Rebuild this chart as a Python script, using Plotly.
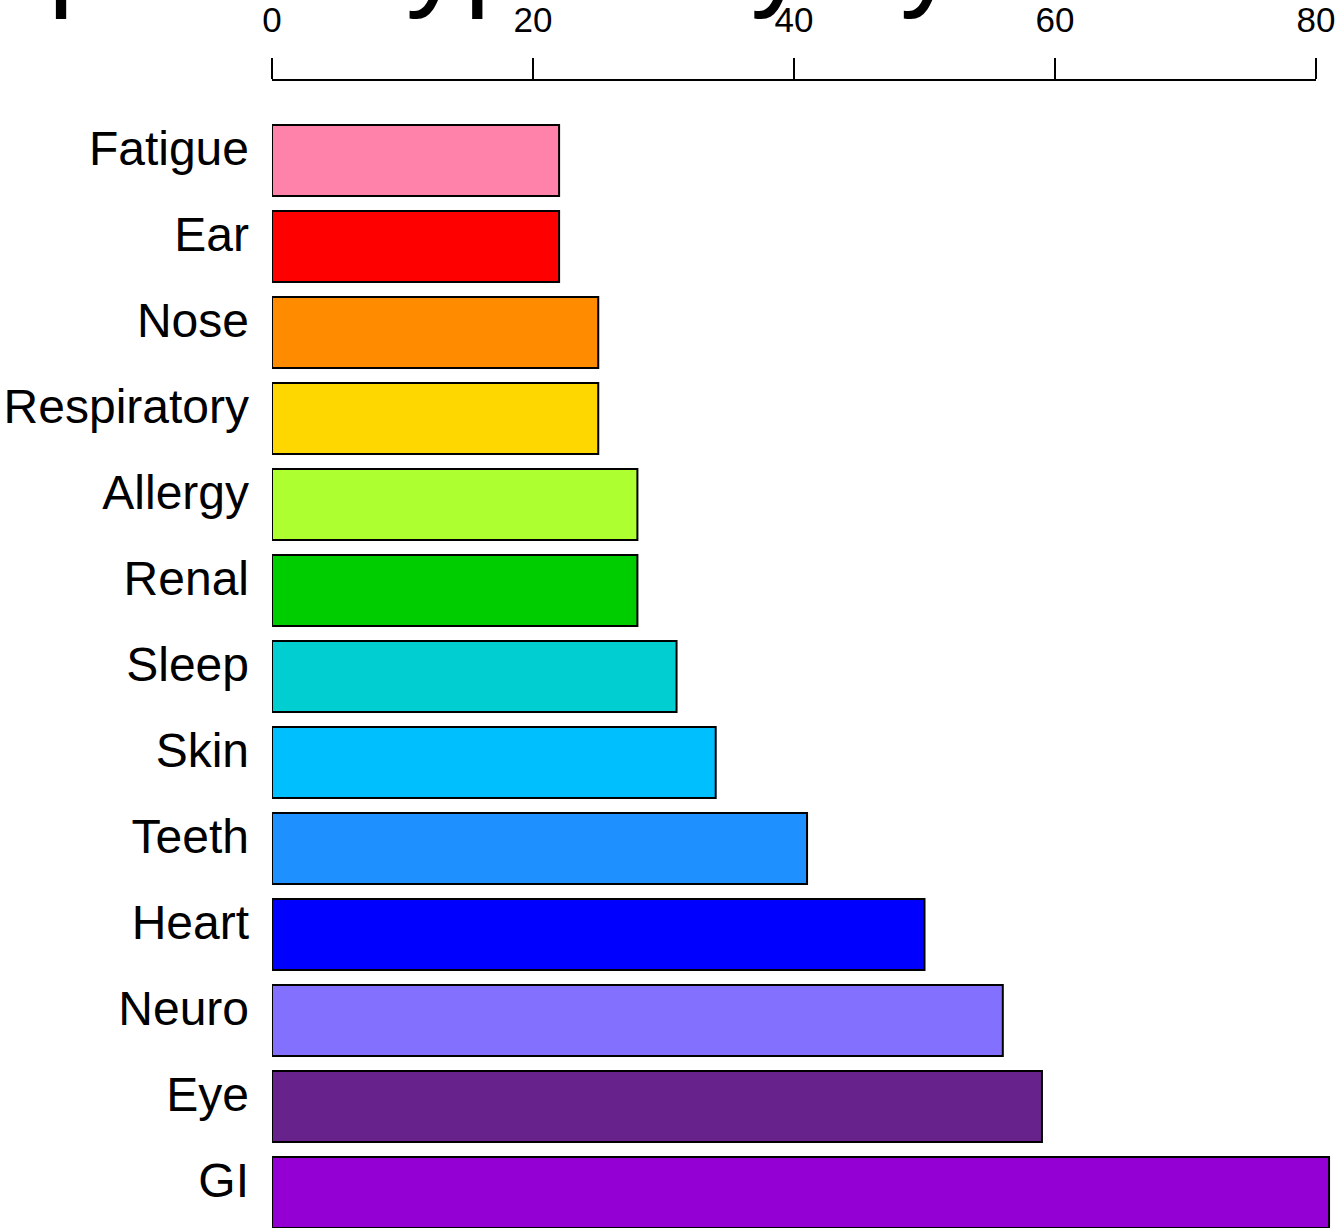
import plotly.graph_objects as go

categories = ["Fatigue", "Ear", "Nose", "Respiratory", "Allergy", "Renal", "Sleep",
              "Skin", "Teeth", "Heart", "Neuro", "Eye", "GI"]
values = [22, 22, 25, 25, 28, 28, 31, 34, 41, 50, 56, 59, 81]
colors = ["#FF82AB", "#FF0000", "#FF8C00", "#FFD700", "#ADFF2F", "#00CD00", "#00CED1",
          "#00BFFF", "#1E90FF", "#0000FF", "#8470FF", "#68228B", "#9400D3"]
tick_vals = [0, 20, 40, 60, 80]
title_text = "phenotypes by system"

W, H = 1341, 1228
L, R, T, B = 272, 5, 80, 0
px_per_unit = 1044 / 80.0
plot_w = W - L - R
x_max = plot_w / px_per_unit

fig = go.Figure(go.Bar(
    x=values, y=categories, orientation="h",
    marker=dict(color=colors, line=dict(color="black", width=2)),
    showlegend=False, hoverinfo="skip",
))

fig.update_layout(
    width=W, height=H,
    margin=dict(l=L, r=R, t=T, b=B, autoexpand=False),
    paper_bgcolor="white", plot_bgcolor="white",
    bargap=0.174,
    font=dict(family="Liberation Sans, Arial, sans-serif", color="black"),
    xaxis=dict(
        side="top", range=[0, x_max], tickvals=tick_vals,
        ticks="outside", ticklen=21, tickwidth=2, tickcolor="black",
        showline=False, showgrid=False, zeroline=False,
        tickfont=dict(size=35, color="black"),
        ticklabelstandoff=12, automargin=False,
    ),
    yaxis=dict(
        range=[12.413, -0.936], type="category",
        ticks="", showline=False, showgrid=False, zeroline=False,
        tickfont=dict(size=48, color="black"),
        ticklabelstandoff=22, ticklabelshift=12, automargin=False,
    ),
    shapes=[dict(type="line", xref="x", yref="paper", x0=0, x1=80, y0=1, y1=1,
                 line=dict(color="black", width=2))],
    annotations=[dict(
        text=title_text, xref="paper", yref="paper",
        x=(46 - L) / plot_w, y=1 + (T - 22) / (H - T - B),
        xanchor="left", yanchor="bottom", showarrow=False,
        font=dict(size=117, color="black", family="Liberation Sans, Arial, sans-serif"),
    )],
)

fig.write_html("out.html", config={"displayModeBar": False},
               post_script="document.body.style.margin='0';")
